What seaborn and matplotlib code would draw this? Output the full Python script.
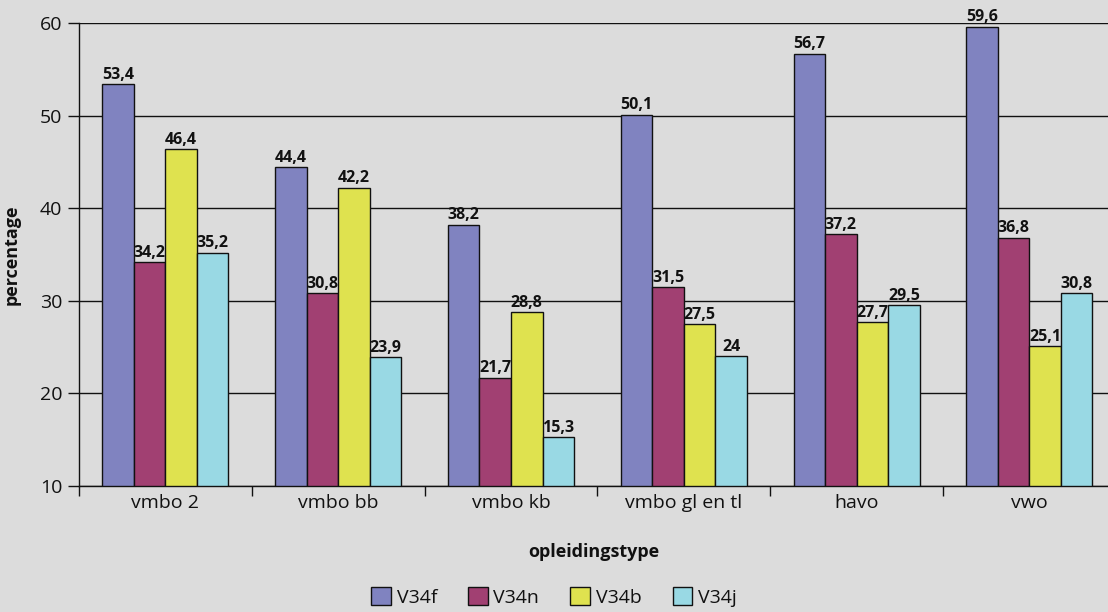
import matplotlib
matplotlib.use("Agg")
import matplotlib.pyplot as plt
import seaborn as sns
import pandas as pd
import numpy as np

categories = ["vmbo 2", "vmbo bb", "vmbo kb", "vmbo gl en tl", "havo", "vwo"]
series = ["V34f", "V34n", "V34b", "V34j"]
v34f = [53.4, 44.4, 38.2, 50.1, 56.7, 59.6]
v34n = [34.2, 30.8, 21.7, 31.5, 37.2, 36.8]
v34b = [46.4, 42.2, 28.8, 27.5, 27.7, 25.1]
v34j = [35.2, 23.9, 15.3, 24.0, 29.5, 30.8]
colors = ["#8083c0", "#a14072", "#dfe24f", "#99d9e4"]

rows = []
for s, vals in zip(series, [v34f, v34n, v34b, v34j]):
    for c, v in zip(categories, vals):
        rows.append({"opleidingstype": c, "serie": s, "percentage": v})
df = pd.DataFrame(rows)

sns.set_theme(style="white")
plt.rcParams["font.family"] = ["Open Sans", "DejaVu Sans"]
bg = "#dcdcdc"
fig = plt.figure(figsize=(11.08, 6.12), dpi=100, facecolor=bg)
ax = fig.add_axes([79/1108, 1-486/612, 1-79/1108, (486-23)/612])
ax.set_facecolor(bg)

sns.barplot(data=df, x="opleidingstype", y="percentage", hue="serie",
            order=categories, hue_order=series, palette=colors,
            edgecolor="#111111", linewidth=1.0, width=0.73, ax=ax,
            saturation=1, errorbar=None, legend=True)

ax.set_ylim(10, 60)
ax.set_xlim(-0.5, 5.455)
ax.set_yticks([10, 20, 30, 40, 50, 60])
ax.yaxis.grid(True, color="#111111", linewidth=1.0)
ax.set_axisbelow(True)
for sp in ["top", "right"]:
    ax.spines[sp].set_visible(False)
for sp in ["left", "bottom"]:
    ax.spines[sp].set_color("#111111")
    ax.spines[sp].set_linewidth(1.0)

ax.tick_params(axis="y", which="major", length=8, width=1, color="#111111",
               labelsize=14, labelcolor="#111111", pad=4, left=True)
ax.tick_params(axis="x", which="major", length=0, labelsize=14,
               labelcolor="#111111", pad=6)
ax.set_xticks(np.arange(-0.5, 5.5, 1.0), minor=True)
ax.tick_params(axis="x", which="minor", length=7, width=1, color="#111111",
               bottom=True, direction="out")

for cont in ax.containers:
    labels = [f"{b.get_height():g}".replace(".", ",") for b in cont]
    ax.bar_label(cont, labels=labels, padding=1, fontsize=11.5,
                 fontweight="bold", color="#111111")

ax.set_xlabel("opleidingstype", fontsize=13, fontweight="bold",
              color="#111111", labelpad=22)
ax.set_ylabel("percentage", fontsize=13, fontweight="bold",
              color="#111111", labelpad=14)

handles, labs = ax.get_legend_handles_labels()
ax.get_legend().remove()
fig.legend(handles, labs, loc="center", bbox_to_anchor=(0.5, 1-597/612),
           ncol=4, frameon=False, fontsize=14, handlelength=1.0,
           handleheight=1.0, handletextpad=0.3, columnspacing=1.6,
           labelcolor="#111111")

fig.savefig("out.png", dpi=100, facecolor=bg)
